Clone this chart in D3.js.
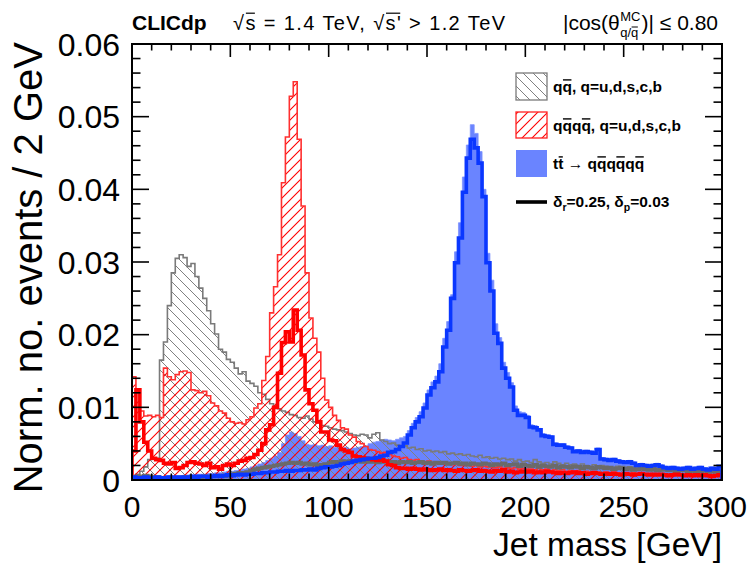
<!DOCTYPE html>
<html><head><meta charset="utf-8">
<script src="https://cdn.jsdelivr.net/npm/d3@7"></script>
<style>body{margin:0;background:#fff}svg{display:block}text{font-family:"Liberation Sans",Arial,Helvetica,sans-serif}</style>
</head><body><svg id="c" width="753" height="563"></svg>
<script>
// Histogram contents, in units of 1e-3 (normalised events per 2 GeV bin), bins 0-2,2-4,...,298-300 GeV
const binWidth = 2;
const massRange = [0, 300];
const qqHatched = [
0.4,0.8,1.2,1.8,2.8,2.9,3.0,16.5,19.0,24.0,
28.5,30.5,31.0,30.6,29.4,29.8,28.0,26.4,25.0,23.3,
21.5,20.1,18.0,17.6,16.6,16.2,15.4,14.6,14.9,13.6,
13.3,12.9,12.0,11.8,11.1,10.5,10.2,9.8,9.5,9.3,
9.0,8.9,8.6,8.5,8.8,8.4,8.0,7.9,7.5,7.4,
7.2,7.0,6.9,6.8,6.6,6.4,6.2,6.1,6.3,6.2,
5.8,6.3,6.5,5.5,5.3,5.0,5.1,4.8,4.6,4.7,
4.4,4.5,4.2,4.3,4.0,4.1,3.9,4.0,3.8,3.9,
3.6,3.7,3.5,3.6,3.4,3.5,3.3,3.2,3.4,3.1,
3.2,3.0,3.1,2.9,3.0,2.8,2.9,2.6,2.8,2.5,
2.6,2.4,2.8,2.5,2.3,2.4,2.2,2.5,2.3,2.1,
2.3,2.1,2.2,2.0,2.2,2.0,1.9,2.1,1.8,2.0,
1.9,1.8,1.7,1.9,1.8,1.6,1.8,1.7,1.5,1.7,
1.6,1.5,1.7,1.5,1.4,1.6,1.5,1.4,1.5,1.3,
1.4,1.5,1.3,1.4,1.3,1.2,1.4,1.3,1.2,1.3];
const qqqqHatched = [
14.2,12.5,9.5,8.8,8.9,8.7,8.9,8.6,15.4,14.2,
13.8,14.5,14.9,15.0,14.8,12.4,12.3,12.0,12.2,11.6,
10.6,10.2,9.5,9.2,8.5,8.0,7.8,7.9,7.7,8.3,
8.7,9.9,10.5,13.7,17.0,23.0,26.6,31.0,40.9,47.2,
52.8,54.8,46.9,37.7,28.5,22.3,19.5,17.6,14.0,11.0,
10.0,8.9,8.2,7.2,7.0,6.2,5.9,5.3,5.0,4.6,
4.2,4.1,3.9,3.7,3.8,3.5,3.3,3.2,3.0,3.1,
2.8,2.7,2.8,2.6,2.5,2.6,2.4,2.3,2.4,2.2,
2.3,2.1,2.2,2.0,2.1,2.0,1.9,2.0,1.8,1.9,
1.8,1.8,1.7,1.8,1.6,1.7,1.6,1.7,1.5,1.6,
1.5,1.5,1.4,1.6,1.4,1.5,1.3,1.4,1.3,1.4,
1.2,1.3,1.2,1.3,1.1,1.2,1.1,1.2,1.1,1.0,
1.1,1.0,1.1,1.0,0.9,1.0,0.9,1.0,0.9,0.9,
0.8,0.9,0.8,0.9,0.8,0.8,0.7,0.8,0.7,0.8,
0.7,0.7,0.7,0.6,0.7,0.6,0.6,0.7,0.6,0.6];
const ttFilled = [
0.3,0.3,0.4,0.4,0.4,0.5,0.5,0.5,0.5,0.6,
0.6,0.6,0.6,0.7,0.7,0.7,0.8,0.8,0.8,0.9,
0.9,1.0,1.0,1.1,1.2,1.2,1.3,1.4,1.5,1.6,
1.8,2.0,2.2,2.4,2.7,3.0,3.3,3.8,5.0,6.2,
6.6,6.4,6.0,5.4,4.9,4.8,4.9,4.7,4.8,4.6,
4.7,4.5,4.6,4.4,4.5,4.3,4.4,4.5,4.6,4.7,
5.0,5.2,5.3,5.5,5.6,5.5,5.4,5.6,5.8,6.0,
6.8,7.8,8.6,9.4,10.6,12.4,13.5,14.3,16.0,19.5,
21.8,25.5,31.4,35.4,41.7,46.1,48.9,47.7,45.2,40.0,
31.2,27.5,21.5,19.6,16.2,14.8,13.4,10.2,9.4,9.3,
8.9,7.6,7.5,7.1,6.4,6.2,6.1,5.1,5.0,5.0,
4.7,4.6,4.1,4.2,4.0,4.1,4.0,3.9,4.4,3.1,
3.0,2.9,3.0,2.8,2.7,2.6,2.7,2.5,2.2,2.3,
2.2,2.1,2.2,2.3,2.1,1.9,1.8,1.9,1.8,1.7,
1.8,1.9,1.7,1.8,1.9,1.7,1.6,1.8,1.7,2.0];
const qqDelta = [
0.4,0.5,0.5,0.6,0.5,0.4,0.4,0.3,0.3,0.3,
0.3,0.3,0.3,0.4,0.3,0.4,0.4,0.4,0.5,0.4,
0.5,0.5,0.6,0.5,0.6,0.8,0.9,1.0,1.0,1.1,
1.3,1.5,1.6,1.7,1.8,1.9,2.0,2.1,2.2,2.3,
2.4,2.3,2.4,2.2,2.3,2.1,2.2,2.0,2.1,2.2,
2.4,2.5,2.4,2.6,2.5,2.6,2.5,2.7,2.5,2.6,
2.5,2.6,2.4,2.5,2.6,2.4,2.5,2.3,2.5,2.4,
2.5,2.3,2.4,2.5,2.3,2.4,2.2,2.4,2.3,2.4,
2.2,2.3,2.4,2.2,2.3,2.1,2.3,2.2,2.1,2.3,
2.2,2.0,2.2,2.1,2.3,2.0,2.1,2.2,1.9,2.1,
2.0,1.9,2.1,1.8,2.0,1.9,1.8,2.0,1.7,1.9,
1.8,1.7,1.9,1.8,1.6,1.8,1.7,1.6,1.8,1.7,
1.6,1.7,1.5,1.6,1.7,1.5,1.6,1.4,1.5,1.6,
1.5,1.4,1.5,1.3,1.4,1.5,1.3,1.4,1.2,1.3,
1.3,1.2,1.3,1.1,1.2,1.3,1.1,1.2,1.1,1.1];
const qqqqDelta = [
4.0,12.4,8.0,5.2,4.0,3.0,2.8,2.7,2.3,2.2,
2.4,1.6,1.7,2.0,2.4,2.5,2.3,2.2,2.0,2.3,
1.7,1.8,1.5,2.0,2.2,2.0,2.3,2.6,2.7,3.0,
3.1,3.5,4.1,5.0,6.9,7.6,10.0,14.7,18.9,20.4,
19.0,23.4,20.6,17.2,12.4,10.5,9.6,8.0,6.6,6.6,
5.5,5.4,4.8,4.2,4.0,3.8,3.3,3.2,3.1,3.0,
2.9,2.8,2.7,2.8,2.6,2.1,2.0,1.7,1.6,1.6,
1.5,1.6,1.5,1.4,1.5,1.4,1.3,1.4,1.5,1.3,
1.4,1.3,1.2,1.4,1.3,1.2,1.3,1.4,1.2,1.3,
1.2,1.1,1.3,1.2,1.4,1.1,1.2,1.0,1.1,1.2,
1.1,1.2,1.0,1.1,1.0,1.2,1.1,1.0,0.9,1.0,
0.9,1.0,1.1,0.9,1.0,0.8,0.9,1.0,0.9,0.8,
0.9,0.8,0.9,0.8,0.7,0.9,0.8,0.7,0.8,0.9,
0.8,0.7,0.8,0.7,0.8,0.7,0.6,0.7,0.8,0.7,
0.6,0.7,0.6,0.7,0.6,0.7,0.6,0.5,0.6,0.7];
const ttDelta = [
0.4,0.3,0.3,0.4,0.3,0.3,0.4,0.3,0.3,0.4,
0.3,0.4,0.4,0.3,0.4,0.5,0.4,0.5,0.5,0.4,
0.5,0.6,0.5,0.6,0.7,0.6,0.7,0.8,0.7,0.8,
0.8,0.9,0.9,1.0,1.0,1.1,1.1,1.2,1.2,1.3,
1.2,1.3,1.3,1.4,1.4,1.5,1.4,1.6,1.7,1.8,
1.8,1.9,2.0,2.2,2.3,2.4,2.6,2.7,2.8,2.9,
3.0,3.0,3.1,3.3,3.4,3.8,3.9,4.2,4.6,5.1,
6.2,7.2,8.0,8.7,9.9,11.7,12.7,13.5,14.9,18.3,
20.6,25.0,29.9,33.3,39.6,44.3,46.9,45.7,43.6,39.0,
29.9,26.0,20.2,18.8,15.4,14.0,12.8,9.6,8.9,8.9,
8.6,7.3,7.2,6.9,6.1,6.0,5.9,4.9,4.8,4.8,
4.5,4.4,3.9,4.0,3.8,3.9,3.8,3.7,4.2,2.9,
2.8,2.7,2.8,2.6,2.5,2.4,2.5,2.3,2.0,2.1,
2.0,1.9,2.0,2.1,1.9,1.7,1.6,1.7,1.6,1.5,
1.6,1.7,1.5,1.6,1.7,1.5,1.4,1.6,1.5,1.9];

const xTicks = [0,50,100,150,200,250,300];
const xTickLabels = ["0","50","100","150","200","250","300"];
const yTicks = [0,10,20,30,40,50,60];            // in 1e-3 units
const yTickLabels = ["0","0.01","0.02","0.03","0.04","0.05","0.06"];

const svg = d3.select('#c');
const L=132, R=722, T=44, B=480;
const x = d3.scaleLinear().domain(massRange).range([L,R]);
const y = d3.scaleLinear().domain([0,60]).range([B,T]);

const defs = svg.append('defs');
defs.append('clipPath').attr('id','clip').append('rect').attr('x',L).attr('y',T).attr('width',R-L).attr('height',B-T);
function hatch(id, color, forward, w){
  const p = defs.append('pattern').attr('id',id).attr('patternUnits','userSpaceOnUse').attr('width',10).attr('height',10);
  p.append('path').attr('d', forward ? 'M-2,2L2,-2M0,10L10,0M8,12L12,8' : 'M-2,8L2,12M0,0L10,10M8,-2L12,2')
    .attr('stroke',color).attr('stroke-width',w).attr('fill','none');
}
hatch('hBack','#808080',false,1);
hatch('hFwd','#ff0000',true,1.1);

function pts(vals){
  const p=[[massRange[0],0]];
  vals.forEach((v,i)=>{p.push([i*binWidth,v]);p.push([(i+1)*binWidth,v]);});
  p.push([vals.length*binWidth,0]);
  return p;
}
const line = d3.line().x(d=>x(d[0])).y(d=>y(d[1]));
const plot = svg.append('g').attr('clip-path','url(#clip)');

plot.append('path').attr('d',line(pts(ttFilled))+'Z').attr('fill','#6a84ff').attr('stroke','#7d93ff').attr('stroke-width',0.8);
plot.append('path').attr('d',line(pts(qqHatched))+'Z').attr('fill','url(#hBack)').attr('stroke','#7a7a7a').attr('stroke-width',1.6);
plot.append('path').attr('d',line(pts(qqqqHatched))+'Z').attr('fill','url(#hFwd)').attr('stroke','#ff3030').attr('stroke-width',1.6);
plot.append('path').attr('d',line(pts(qqDelta))).attr('fill','none').attr('stroke','#6a6a6a').attr('stroke-width',3.6);
plot.append('path').attr('d',line(pts(qqqqDelta))).attr('fill','none').attr('stroke','#ff0000').attr('stroke-width',3.6);
plot.append('path').attr('d',line(pts(ttDelta))).attr('fill','none').attr('stroke','#0a37ff').attr('stroke-width',3.6);

// frame + ticks
const ax = svg.append('g').attr('stroke','#000').attr('fill','none');
ax.append('rect').attr('x',L).attr('y',T).attr('width',R-L).attr('height',B-T).attr('stroke-width',2);
d3.range(0,301,10).forEach(v=>{
  const len = (v%50===0)?13:6.5;
  ax.append('line').attr('x1',x(v)).attr('x2',x(v)).attr('y1',B).attr('y2',B-len).attr('stroke-width',1.6);
  ax.append('line').attr('x1',x(v)).attr('x2',x(v)).attr('y1',T).attr('y2',T+len).attr('stroke-width',1.6);
});
d3.range(0,61,2).forEach(v=>{
  const len = (v%10===0)?17:8.5;
  ax.append('line').attr('y1',y(v)).attr('y2',y(v)).attr('x1',L).attr('x2',L+len).attr('stroke-width',1.6);
  ax.append('line').attr('y1',y(v)).attr('y2',y(v)).attr('x1',R).attr('x2',R-len).attr('stroke-width',1.6);
});
xTicks.forEach((v,i)=>svg.append('text').attr('x',x(v)).attr('y',517).attr('text-anchor','middle').attr('font-size',30).text(xTickLabels[i]));
yTicks.forEach((v,i)=>svg.append('text').attr('x',120).attr('y',y(v)+11.5).attr('text-anchor','end').attr('font-size',32).text(yTickLabels[i]));
svg.append('text').attr('x',R).attr('y',555.5).attr('text-anchor','end').attr('font-size',33.5).text('Jet mass [GeV]');
svg.append('text').attr('transform','translate(42,42) rotate(-90)').attr('text-anchor','end').attr('font-size',40).text('Norm. no. events / 2 GeV');

function overline(t, ranges, k, w){
  const n=t.node(); const fs=+t.attr('font-size'); const by=+t.attr('y');
  const cnt=n.getNumberOfChars();
  ranges.forEach(([a,b])=>{
    if(b>=cnt) return;
    const sx=n.getStartPositionOfChar(a).x, ex=n.getEndPositionOfChar(b).x;
    svg.append('line').attr('x1',sx+0.5).attr('x2',ex-0.5).attr('y1',by-k*fs).attr('y2',by-k*fs).attr('stroke','#000').attr('stroke-width',w);
  });
}
// title
svg.append('text').attr('x',132).attr('y',30).attr('font-size',21).attr('font-weight','bold').text('CLICdp');
const ta = svg.append('text').attr('x',233).attr('y',30).attr('font-size',20)
  .attr('textLength',272).attr('lengthAdjust','spacing').text('√s = 1.4 TeV, √s\' > 1.2 TeV');
overline(ta,[[1,1],[15,16]],0.84,1.2);
// right title with stacked sup/sub
const rg = svg.append('g');
const r1 = rg.append('text').attr('x',0).attr('y',30).attr('font-size',21).text('|cos(θ');
const w1 = r1.node().getComputedTextLength();
const sup = rg.append('text').attr('x',w1+0.5).attr('y',21).attr('font-size',13).text('MC');
const sub = rg.append('text').attr('x',w1+0.5).attr('y',37).attr('font-size',13).text('q/q');
const ws = Math.max(sup.node().getComputedTextLength(), sub.node().getComputedTextLength());
const r2 = rg.append('text').attr('x',w1+ws+1.5).attr('y',30).attr('font-size',21).text(')| ≤ 0.80');
const wt = w1+ws+1.5+r2.node().getComputedTextLength();
{
  const n=sub.node(); const sx=n.getStartPositionOfChar(2).x, ex=n.getEndPositionOfChar(2).x;
  rg.append('line').attr('x1',sx+0.5).attr('x2',ex-0.5).attr('y1',37-10).attr('y2',37-10).attr('stroke','#000').attr('stroke-width',1);
}
rg.attr('transform',`translate(${718-wt},0)`);

// legend
const lg = svg.append('g');
const bx=516, bw=31;
lg.append('rect').attr('x',bx).attr('y',73).attr('width',bw).attr('height',27).attr('fill','url(#hBack)').attr('stroke','#7a7a7a').attr('stroke-width',1.3);
lg.append('rect').attr('x',bx).attr('y',112).attr('width',bw).attr('height',26).attr('fill','url(#hFwd)').attr('stroke','#ff2020').attr('stroke-width',1.3);
lg.append('rect').attr('x',bx).attr('y',150).attr('width',bw).attr('height',27).attr('fill','#6a84ff');
lg.append('line').attr('x1',bx).attr('x2',bx+bw).attr('y1',202).attr('y2',202).attr('stroke','#000').attr('stroke-width',3.6);
const tx=553, lfs=15.5;
const l1 = svg.append('text').attr('x',tx).attr('y',92).attr('font-size',lfs).attr('font-weight','bold').text('qq, q=u,d,s,c,b');
overline(l1,[[1,1]],0.78,1.4);
const l2 = svg.append('text').attr('x',tx).attr('y',131).attr('font-size',lfs).attr('font-weight','bold').text('qqqq, q=u,d,s,c,b');
overline(l2,[[1,1],[3,3]],0.78,1.4);
const l3 = svg.append('text').attr('x',tx).attr('y',169).attr('font-size',lfs).attr('font-weight','bold');
l3.append('tspan').text('tt\u00A0');
l3.append('tspan').attr('font-weight','normal').text('\u2192\u00A0');
l3.append('tspan').text('qqqqqq');
overline(l3,[[1,1],[6,6],[8,8],[10,10]],0.78,1.4);
const l4 = svg.append('text').attr('x',tx).attr('y',207).attr('font-size',lfs).attr('font-weight','bold');
l4.append('tspan').text('δ');
l4.append('tspan').attr('font-size',10.5).attr('dy',4).text('r');
l4.append('tspan').attr('dy',-4).text('=0.25,\u00A0δ');
l4.append('tspan').attr('font-size',10.5).attr('dy',4).text('p');
l4.append('tspan').attr('dy',-4).text('=0.03');
</script></body></html>
